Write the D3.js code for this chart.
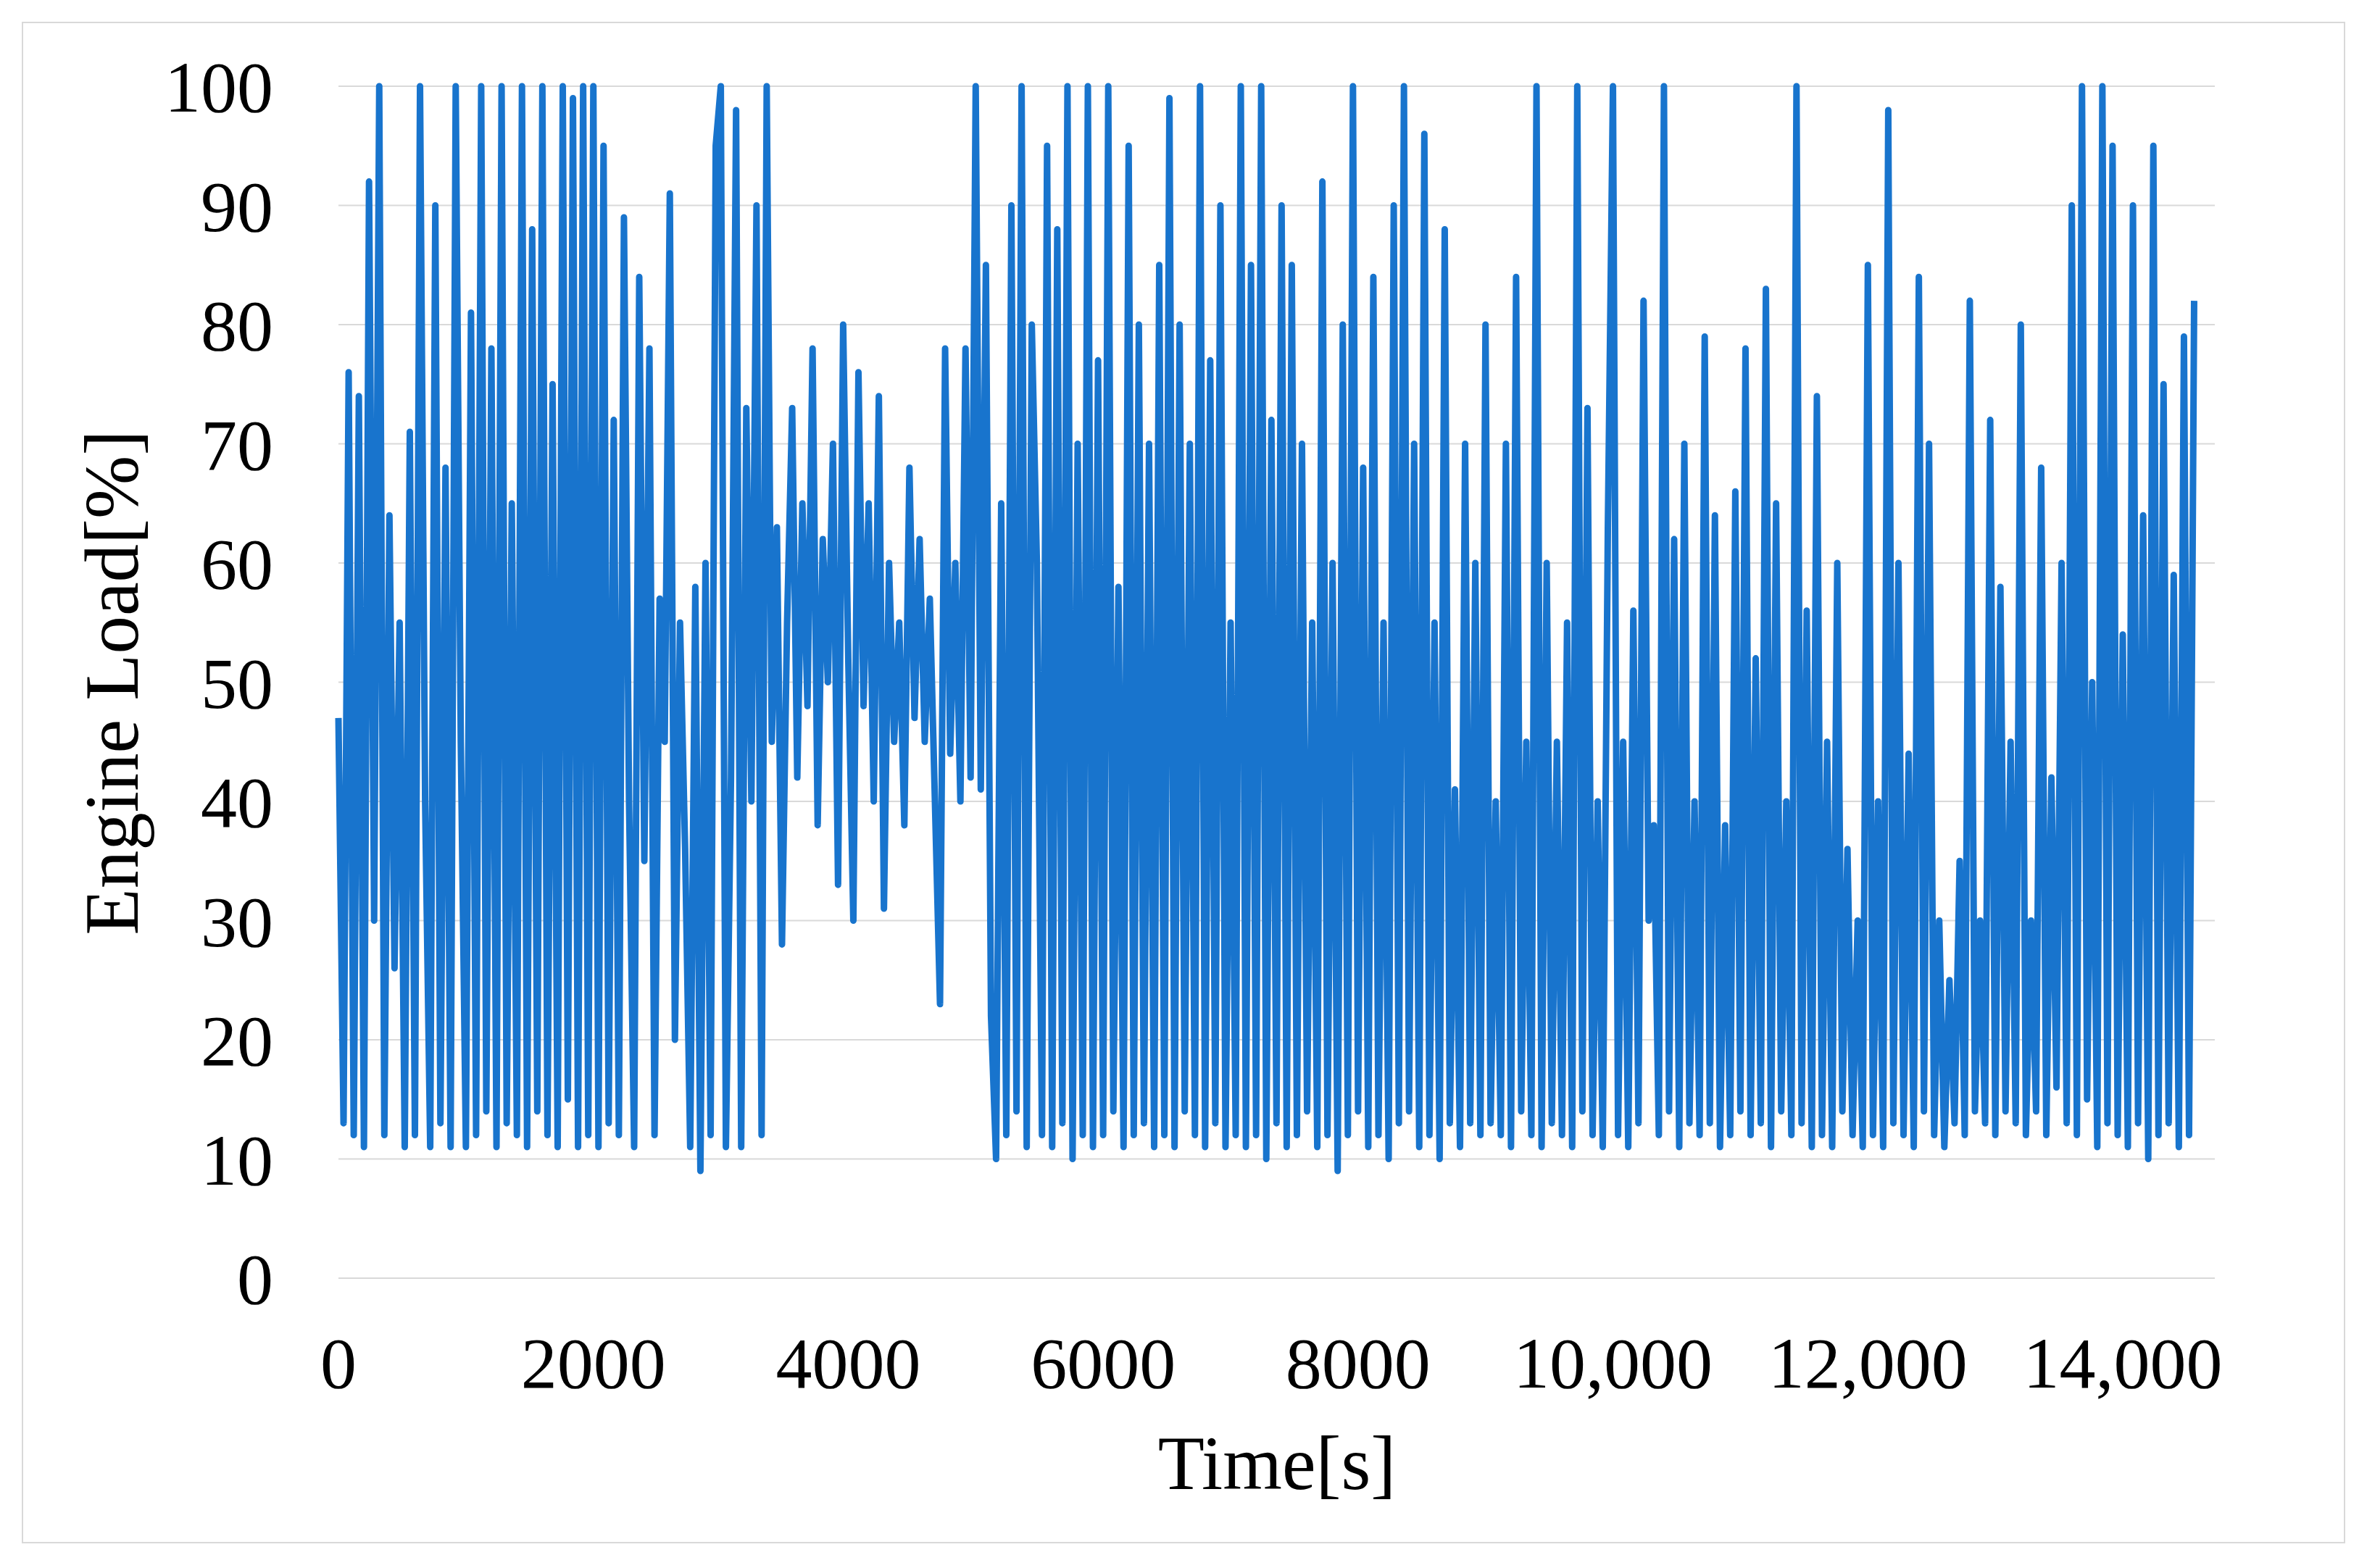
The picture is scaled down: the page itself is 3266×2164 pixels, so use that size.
<!DOCTYPE html>
<html><head><meta charset="utf-8">
<script src="https://cdn.jsdelivr.net/npm/d3@7"></script>
<style>body{margin:0;background:#fff}</style></head>
<body><svg id="c" width="3266" height="2164"></svg>
<script>
const timeStep = 40;
const loadValues = [
47,13,76,12,74,11,92,30,100,12,64,26,55,11,71,12,100,40,11,90,13,68,11,100,45,
11,81,12,100,14,78,11,100,13,65,12,100,11,88,14,100,12,75,11,100,15,99,11,100,12,
100,11,95,13,72,12,89,40,11,84,35,78,12,57,45,91,20,55,36,11,58,9,60,12,95,
100,11,42,98,11,73,40,90,12,100,45,63,28,55,73,42,65,48,78,38,62,50,70,33,80,
52,30,76,48,65,40,74,31,60,45,55,38,68,47,62,45,57,40,23,78,44,60,40,78,42,
100,41,85,22,10,65,12,90,14,100,11,80,60,12,95,11,88,13,100,10,70,12,100,11,77,
12,100,14,58,11,95,12,80,13,70,11,85,12,99,11,80,14,70,12,100,11,77,13,90,11,
55,12,100,11,85,12,100,10,72,13,90,11,85,12,70,14,55,11,92,12,60,9,80,12,100,
14,68,11,84,12,55,10,90,13,100,14,70,11,96,12,55,10,88,13,41,11,70,13,60,12,
80,13,40,12,70,11,84,14,45,12,100,11,60,13,45,12,55,11,100,14,73,12,40,11,63,
100,12,45,11,56,13,82,30,38,12,100,14,62,11,70,13,40,12,79,13,64,11,38,12,66,
14,78,12,52,13,83,11,65,14,40,12,100,13,56,11,74,12,45,11,60,14,36,12,30,11,
85,12,40,11,98,13,60,12,44,11,84,14,70,12,30,11,25,13,35,12,82,14,30,13,72,
12,58,14,45,13,80,12,30,14,68,12,42,16,60,13,90,12,100,15,50,11,100,13,95,12,
54,11,90,13,64,10,95,12,75,13,59,11,79,12,82
];
const xTicks = [0,2000,4000,6000,8000,10000,12000,14000];
const xTickLabels = ["0","2000","4000","6000","8000","10,000","12,000","14,000"];
const yTicks = [0,10,20,30,40,50,60,70,80,90,100];

const svg = d3.select("#c");
svg.append("rect").attr("x",31).attr("y",31).attr("width",3204).attr("height",2098)
  .attr("fill","#fff").attr("stroke","#d9d9d9").attr("stroke-width",2);
const x = d3.scaleLinear().domain([0,14000]).range([467,2929]);
const y = d3.scaleLinear().domain([0,100]).range([1764,119]);
const x0=467, x1=3056;
const font="Liberation Serif, Times New Roman, serif";
svg.append("g").selectAll("line").data(yTicks).join("line")
  .attr("x1",x0).attr("x2",x1).attr("y1",d=>y(d)).attr("y2",d=>y(d))
  .attr("stroke","#d9d9d9").attr("stroke-width",2);
svg.append("g").selectAll("text").data(yTicks).join("text")
  .attr("x",377).attr("y",d=>y(d)).attr("dy","0.35em").attr("text-anchor","end")
  .attr("font-family",font).attr("font-size",100).text(d=>d);
svg.append("g").selectAll("text").data(xTicks).join("text")
  .attr("x",d=>x(d)).attr("y",1915).attr("text-anchor","middle")
  .attr("font-family",font).attr("font-size",100).text((d,i)=>xTickLabels[i]);
const line = d3.line().x((d,i)=>x(i*timeStep)).y(d=>y(d));
svg.append("path").datum(loadValues).attr("d",line).attr("fill","none")
  .attr("stroke","#1874CD").attr("stroke-width",9).attr("stroke-linejoin","round");
svg.append("text").attr("x",1762).attr("y",2055).attr("text-anchor","middle")
  .attr("font-family",font).attr("font-size",105).text("Time[s]");
svg.append("text").attr("transform","translate(190,942) rotate(-90)").attr("text-anchor","middle")
  .attr("font-family",font).attr("font-size",105).text("Engine Load[%]");
</script></body></html>
